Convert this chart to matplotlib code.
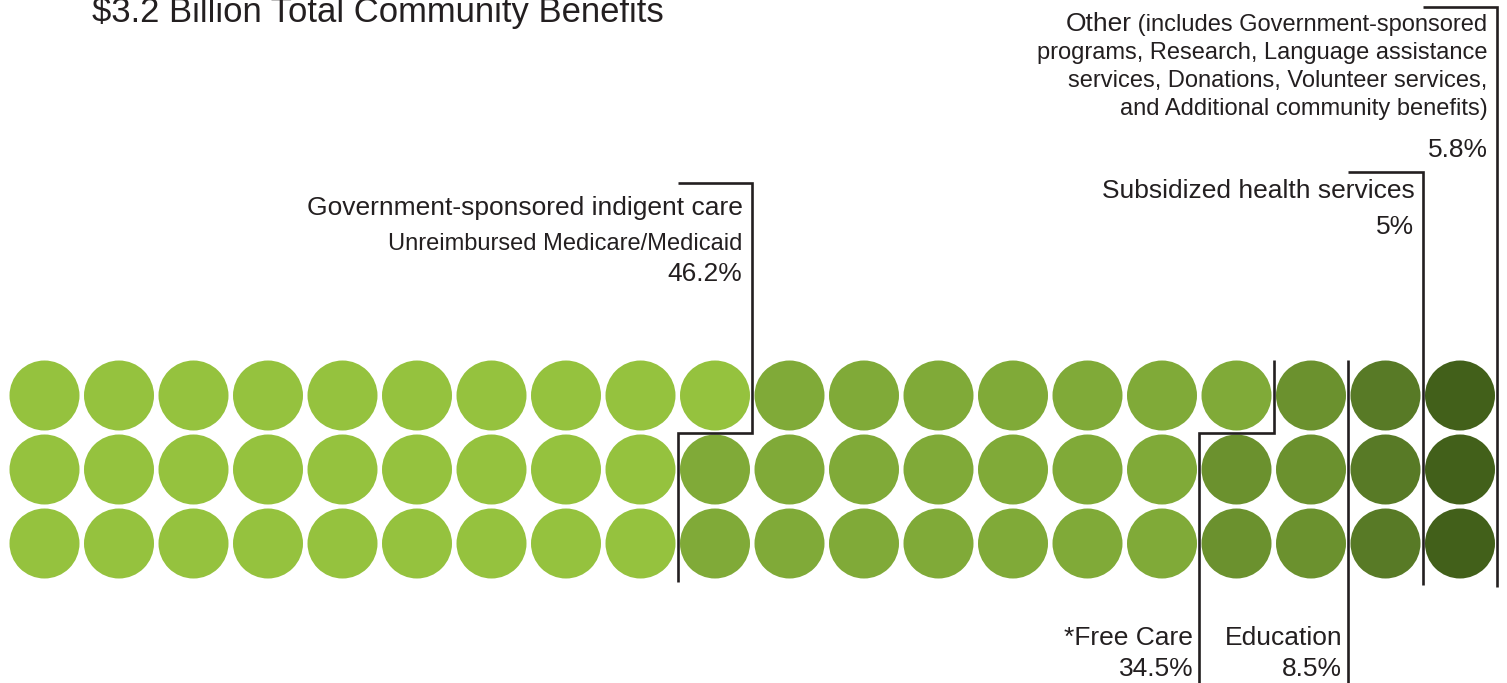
import matplotlib
matplotlib.use("Agg")
import matplotlib.pyplot as plt
import numpy as np

# --- data ---------------------------------------------------------------
categories = ["Government-sponsored indigent care", "*Free Care", "Education",
              "Subsidized health services", "Other"]
percents = [46.2, 34.5, 8.5, 5.0, 5.8]
dot_counts = [28, 21, 5, 3, 3]          # 60 dots, 3 rows, filled column by column
colors = ["#95c23e", "#80aa38", "#6b912e", "#587a26", "#42601a"]
title = "$3.2 Billion Total Community Benefits"

N_ROWS = 3
LINE = "#231f20"

# pixel layout helpers (figure is 1507x683 px)
W, H = 1507, 683
X0, DX = 44.5, 74.5      # centre of column 0, column pitch
Y0, DY = 395.5, 74.0     # centre of row 0, row pitch


def col(px):
    return (px - X0) / DX


def row(py):
    return (py - Y0) / DY


plt.rcParams["font.family"] = ["Liberation Sans", "DejaVu Sans"]
fig = plt.figure(figsize=(W / 100, H / 100), dpi=100)
ax = fig.add_axes([0, 0, 1, 1])
ax.set_xlim(col(0), col(W))
ax.set_ylim(row(H), row(0))
ax.axis("off")

# dots
cx, cy, cc = [], [], []
k = 0
for n, c in zip(dot_counts, colors):
    for _ in range(n):
        cx.append(k // N_ROWS)
        cy.append(k % N_ROWS)
        cc.append(c)
        k += 1
d_pt = 70 * 72 / 100
ax.scatter(cx, cy, s=d_pt ** 2, c=cc, linewidths=0)

# boundary brackets
side = ["top", "bottom", "bottom", "top", "top"]
tick_top = [row(183), None, None, row(172), row(7)]
grid_bot = [row(582), None, None, row(585), row(587)]
grid_top = row(360)
img_bot = row(H + 5)
lw = 1.9

cum = np.cumsum(dot_counts)
for i, n in enumerate(cum):
    c, r = n // N_ROWS, n % N_ROWS
    if side[i] == "top":
        ys_lo, ys_hi = grid_bot[i], tick_top[i]
    else:
        ys_lo, ys_hi = img_bot, grid_top
    if r == 0:
        xs = [c - 0.5, c - 0.5]
        ys = [ys_lo, ys_hi]
    else:
        xs = [c - 0.5, c - 0.5, c + 0.5, c + 0.5]
        ys = [ys_lo, r - 0.5, r - 0.5, ys_hi]
    if side[i] == "top":
        xs.append(xs[-1] - 1)
        ys.append(ys[-1])
    ax.plot(xs, ys, color=LINE, lw=lw, solid_joinstyle="miter", solid_capstyle="butt")

# labels
BIG, SMALL = 19, 17
gap = 0.13
txt = dict(color="#231f20", ha="right", va="baseline")
pct = [f"{p:g}%" for p in percents]
right = [c - 0.5 if r == 0 else c + 0.5 for c, r in ((n // N_ROWS, n % N_ROWS) for n in cum)]
right[1] = cum[1] // N_ROWS - 0.5  # free care label sits left of the lower line

ax.text(col(92), row(22), title, fontsize=24.9, color="#231f20", ha="left", va="baseline")

# government-sponsored indigent care
xr = right[0] - gap
ax.text(xr, row(215), categories[0], fontsize=BIG, **txt)
ax.text(xr, row(250), "Unreimbursed Medicare/Medicaid", fontsize=SMALL, **txt)
ax.text(xr, row(281), pct[0], fontsize=BIG, **txt)

# free care / education (below)
for i in (1, 2):
    xr = right[i] - 0.08
    ax.text(xr, row(645), categories[i], fontsize=BIG, **txt)
    ax.text(xr, row(676), pct[i], fontsize=BIG, **txt)

# subsidized health services
xr = right[3] - 0.11
ax.text(xr, row(198), categories[3], fontsize=BIG, **txt)
ax.text(xr, row(234), pct[3], fontsize=BIG, **txt)

# other
xr = right[4] - gap
t = ax.text(xr, row(31), " (includes Government-sponsored", fontsize=SMALL, **txt)
ax.annotate(categories[4], xy=(0, 0), xycoords=t, fontsize=BIG, color="#231f20",
            ha="right", va="bottom")
other_lines = ["programs, Research, Language assistance",
               "services, Donations, Volunteer services,",
               "and Additional community benefits)"]
for y, s in zip([59, 87, 115], other_lines):
    ax.text(xr, row(y), s, fontsize=SMALL, **txt)
ax.text(xr, row(157), pct[4], fontsize=BIG, **txt)

fig.savefig("out.png", dpi=100, facecolor="white")
